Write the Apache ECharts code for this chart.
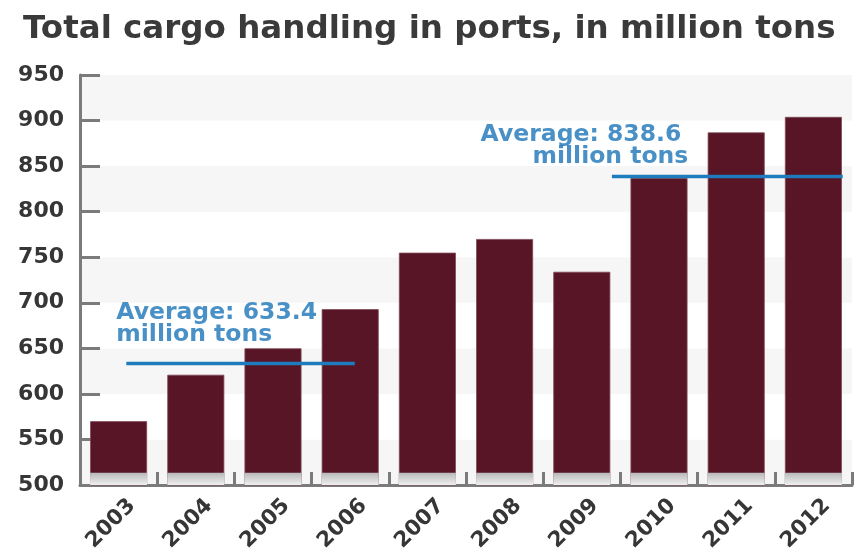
<!DOCTYPE html>
<html>
<head>
<meta charset="utf-8">
<script src="https://cdn.jsdelivr.net/npm/echarts@6/dist/echarts.min.js"></script>
<style>
  html, body { margin: 0; padding: 0; background: #ffffff; }
  #chart { width: 856px; height: 549px; }
</style>
</head>
<body>
<div id="chart"></div>
<script>
// Total cargo handling in ports, million tons
const years = ['2003', '2004', '2005', '2006', '2007', '2008', '2009', '2010', '2011', '2012'];
const cargo = [570, 621, 650, 693, 755, 770, 734, 837, 887, 904];

// value axis range and step
const yMin = 500;
const yMax = 950;
const yStep = 50;

// averages for the two periods: value, span in category units, label anchor
const averages = [633.4, 838.6];
const averageSpans = [[0.6, 3.56], [6.89, 9.88]];
const averageLabelAnchors = [[0.47, 677], [7.88, 872]];

// level up to which the bar bases are shaded
const baseShade = 513.5;

const axisGray = '#7b7b7b';
const textGray = '#363636';
const blue = '#1e7bbd';
const labelBlue = '#1a74b8';
const maroon = '#581526';

const chart = echarts.init(document.getElementById('chart'), null, { renderer: 'canvas' });

const averageLines = averages.map((v, i) => ({
  type: 'line',
  xAxisIndex: 1,
  data: [[averageSpans[i][0], v], [averageSpans[i][1], v]],
  symbol: 'none',
  silent: true,
  z: 5,
  lineStyle: { color: blue, width: 3.5 }
}));

const labelFont = { fontFamily: 'DejaVu Sans', fontWeight: 'bold', fontSize: 23.5, lineHeight: 22, color: labelBlue };

const averageLabels = averages.map((v, i) => ({
  type: 'scatter',
  xAxisIndex: 1,
  data: [averageLabelAnchors[i]],
  symbolSize: 0,
  silent: true,
  z: 6,
  label: {
    show: true,
    position: 'inside',
    align: i === 0 ? 'left' : 'right',
    verticalAlign: 'middle',
    formatter: i === 0
      ? '{a|Average: ' + v.toFixed(1) + '}\n{a|million tons}'
      : '{b|Average: ' + v.toFixed(1) + '}\n{a|million tons}',
    rich: {
      a: labelFont,
      b: Object.assign({}, labelFont, { padding: [0, 7, 0, 0] })
    }
  }
}));

chart.setOption({
  animation: false,
  backgroundColor: '#ffffff',
  title: {
    text: 'Total cargo handling in ports, in million tons',
    left: 18,
    top: 8,
    textStyle: {
      fontFamily: 'DejaVu Sans',
      fontWeight: 'bold',
      fontSize: 32.5,
      color: '#3a3a3a'
    }
  },
  grid: { left: 80, right: 4, top: 75, bottom: 64, containLabel: false, outerBoundsMode: 'none' },
  xAxis: [
    {
      type: 'category',
      data: years,
      boundaryGap: true,
      axisLine: { show: true, lineStyle: { color: axisGray, width: 3 } },
      axisTick: { show: true, inside: true, length: 13, interval: 0, lineStyle: { color: axisGray, width: 3 } },
      axisLabel: {
        interval: 0,
        rotate: 45,
        align: 'right',
        verticalAlign: 'top',
        margin: 4,
        padding: [8, 0, 0, 0],
        fontFamily: 'DejaVu Sans',
        fontWeight: 'bold',
        fontSize: 21.5,
        color: textGray
      },
      splitLine: { show: false }
    },
    {
      type: 'value',
      min: 0,
      max: years.length,
      show: false
    }
  ],
  yAxis: {
    type: 'value',
    min: yMin,
    max: yMax,
    interval: yStep,
    axisLine: { show: true, lineStyle: { color: axisGray, width: 3 } },
    axisTick: { show: true, inside: true, length: 20, lineStyle: { color: axisGray, width: 3 } },
    axisLabel: {
      margin: 16,
      fontFamily: 'DejaVu Sans',
      fontWeight: 'bold',
      fontSize: 22,
      color: textGray
    },
    splitLine: { show: false },
    splitArea: { show: true, areaStyle: { color: ['#f6f6f6', '#ffffff'] } }
  },
  series: [
    {
      type: 'bar',
      data: cargo,
      barWidth: 57,
      z: 2,
      itemStyle: { color: maroon, borderColor: '#7d4a57', borderWidth: 0.8 }
    },
    {
      type: 'bar',
      data: years.map(() => baseShade),
      barWidth: 57,
      barGap: '-100%',
      silent: true,
      z: 3,
      itemStyle: {
        color: new echarts.graphic.LinearGradient(0, 0, 0, 1, [
          { offset: 0, color: '#b8b8b8' },
          { offset: 1, color: '#f0f0f0' }
        ])
      }
    },
    ...averageLines,
    ...averageLabels
  ]
});
</script>
</body>
</html>
